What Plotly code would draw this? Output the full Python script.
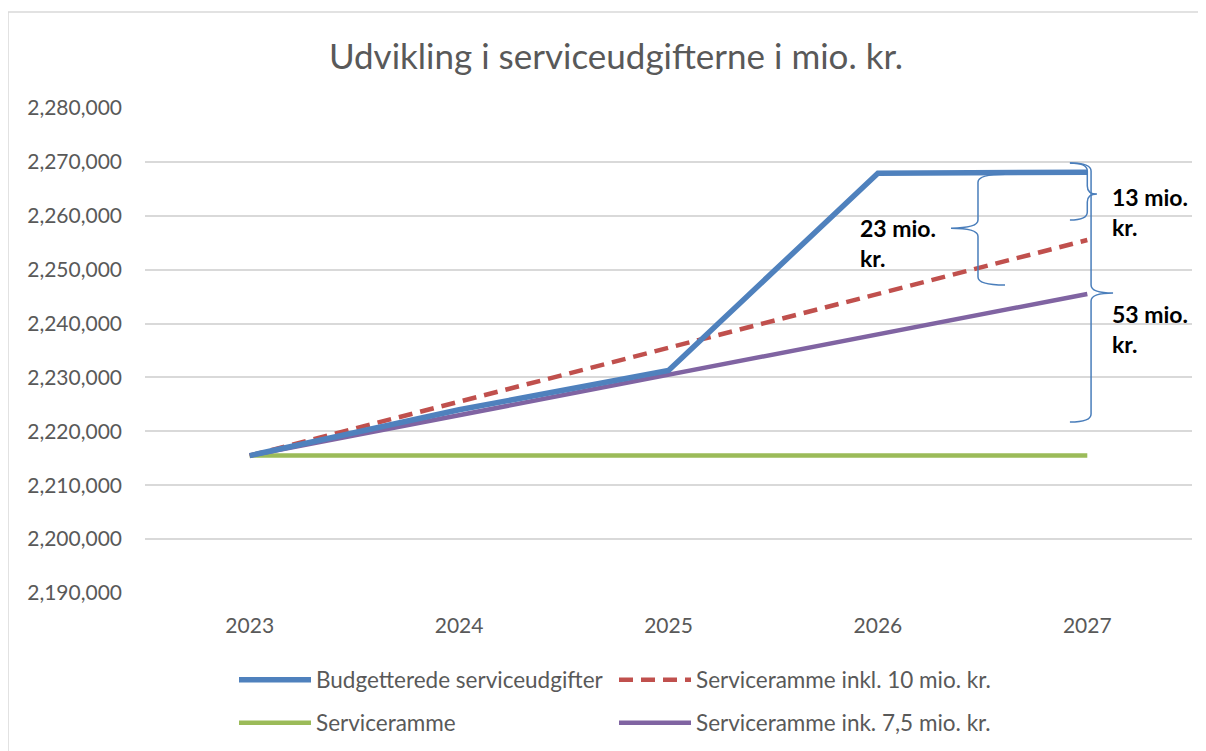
import plotly.graph_objects as go

years = [2023, 2024, 2025, 2026, 2027]
budget = [2215500, 2224000, 2231300, 2267900, 2268100]
ramme_10 = [2215500, 2225500, 2235500, 2245500, 2255500]
ramme = [2215500, 2215500, 2215500, 2215500, 2215500]
ramme_75 = [2215500, 2223000, 2230500, 2238000, 2245500]
y_ticks = list(range(2190000, 2280001, 10000))

names = ["Budgetterede serviceudgifter", "Serviceramme inkl. 10 mio. kr.",
         "Serviceramme", "Serviceramme ink. 7,5 mio. kr."]

# brace annotations: (spine x, tip x, end x, top y, middle y, bottom y)
braces = [
    (2026.478, 2026.349, 2026.607, 2267700, 2257700, 2247150),
    (2027.000, 2027.046, 2026.917, 2269800, 2264040, 2259210),
    (2027.018, 2027.123, 2026.917, 2269800, 2245670, 2221730),
]
brace_labels = [
    ("23 mio.<br>kr.", 2025.905, 2254950),
    ("13 mio.<br>kr.", 2027.108, 2260700),
    ("53 mio.<br>kr.", 2027.108, 2238990),
]

FONT = "Lato, Carlito, Calibri, sans-serif"
GRID = "#d9d9d9"
TXT = "#595959"

fig = go.Figure()
fig.add_trace(go.Scatter(x=years, y=ramme, name=names[2], mode="lines",
                         line=dict(color="#9bbb59", width=4.5), legend="legend2", legendrank=1))
fig.add_trace(go.Scatter(x=years, y=ramme_75, name=names[3], mode="lines",
                         line=dict(color="#8064a2", width=4.5), legend="legend2", legendrank=2))
fig.add_trace(go.Scatter(x=years, y=ramme_10, name=names[1], mode="lines",
                         line=dict(color="#c0504d", width=4.5, dash="14px,8px"),
                         legend="legend", legendrank=2))
fig.add_trace(go.Scatter(x=years, y=budget, name=names[0], mode="lines",
                         line=dict(color="#4f81bd", width=5.5), legend="legend", legendrank=1))

ry = 1500
for xs, xt, xe, yt, ym, yb in braces:
    path = (f"M {xe},{yt} Q {xs},{yt} {xs},{yt-ry} "
            f"L {xs},{ym+ry} Q {xs},{ym} {xt},{ym} "
            f"Q {xs},{ym} {xs},{ym-ry} "
            f"L {xs},{yb+ry} Q {xs},{yb} {xe},{yb}")
    fig.add_shape(type="path", path=path, xref="x", yref="y",
                  line=dict(color="#4a7ebb", width=1.5), layer="above")

for text, x, y in brace_labels:
    fig.add_annotation(text=f"<b>{text}</b>", x=x, y=y, xref="x", yref="y",
                       xanchor="left", yanchor="middle", align="left", showarrow=False,
                       font=dict(family=FONT, size=23, color="#000000"))

# page has an 8px body margin; figure is placed at (8, 8)
OFF = 8
W, H = 1198, 743
L, T, R, B = 145 - OFF, 108 - OFF, 14, 158
PW, PH = W - L - R, H - T - B

# outer chart border (top and left edges visible)
bx0, bx1 = (8 - 145) / PW, (1220 - 145) / PW
by0, by1 = (593 - 770) / PH, (593 - 12) / PH
fig.add_shape(type="line", xref="paper", yref="paper", x0=bx0, x1=bx1, y0=by1, y1=by1,
              line=dict(color=GRID, width=1.5), layer="below")
fig.add_shape(type="line", xref="paper", yref="paper", x0=bx0, x1=bx0, y0=by0, y1=by1,
              line=dict(color=GRID, width=1.5), layer="below")

leg_x = (234 - 145) / PW
fig.update_layout(
    width=W, height=H,
    margin=dict(l=L, r=R, t=T, b=B, autoexpand=False),
    paper_bgcolor="white", plot_bgcolor="white",
    font=dict(family=FONT, color=TXT),
    title=dict(text="Udvikling i serviceudgifterne i mio. kr.", x=(616 - OFF) / W, xanchor="center",
               xref="container", yref="container", y=1 - (57 - OFF) / H, yanchor="middle",
               font=dict(family=FONT, size=35, color=TXT)),
    xaxis=dict(range=[2022.5, 2027.5], tickvals=years, ticktext=[str(y) for y in years],
               showgrid=False, zeroline=False, showline=False, ticks="",
               tickfont=dict(family=FONT, size=21, color=TXT), ticklabelstandoff=18),
    yaxis=dict(range=[2190000, 2280000], tickvals=y_ticks, tickformat=",d",
               showgrid=True, gridcolor=GRID, gridwidth=1.5, zeroline=False, showline=False,
               ticks="", tickfont=dict(family=FONT, size=21, color=TXT), ticklabelstandoff=22),
    legend=dict(orientation="h", x=leg_x, xanchor="left",
                y=(593 - 680) / PH, yanchor="middle", entrywidth=293, itemwidth=72,
                font=dict(family=FONT, size=22.5, color=TXT), bgcolor="rgba(0,0,0,0)"),
    legend2=dict(orientation="h", x=leg_x, xanchor="left",
                 y=(593 - 723) / PH, yanchor="middle", entrywidth=293, itemwidth=72,
                 font=dict(family=FONT, size=22.5, color=TXT), bgcolor="rgba(0,0,0,0)"),
)

fig.write_html("out.html")
